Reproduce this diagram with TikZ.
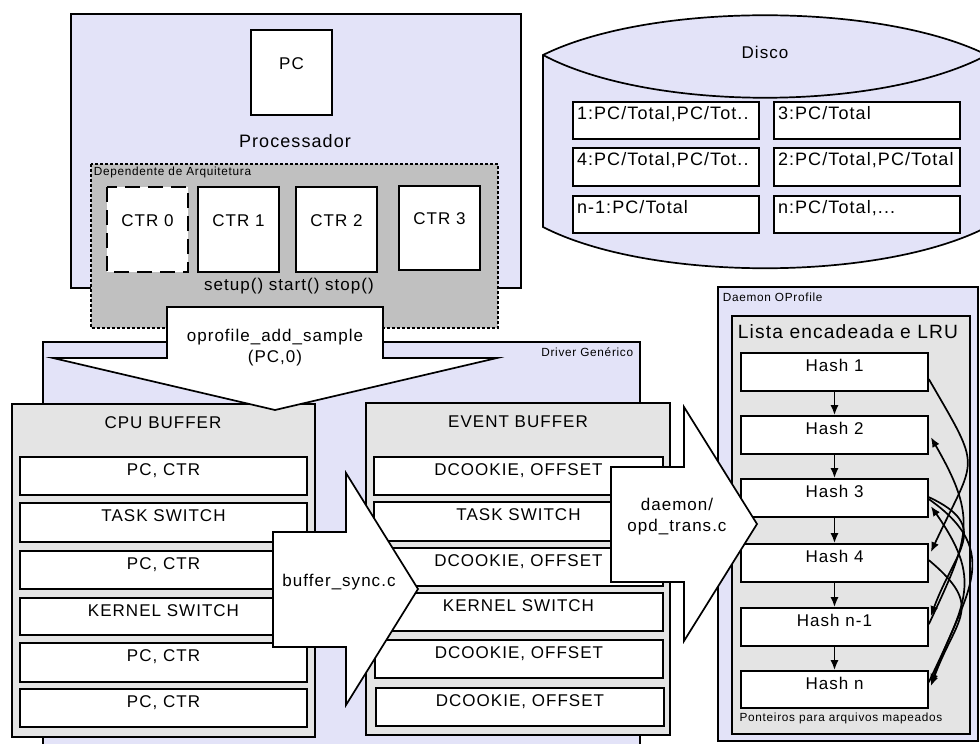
\documentclass[tikz,border=0pt]{standalone}
\usepackage{fontspec}
\setmainfont[LetterSpace=6]{Liberation Sans}
\usetikzlibrary{calc,fit,arrows.meta}

\definecolor{lavanda}{RGB}{227,227,248}
\definecolor{cinza}{RGB}{192,192,192}
\definecolor{cinzaclaro}{RGB}{228,228,228}

\tikzset{
  caixa/.style={draw, fill=white, inner sep=0pt},
  seta/.style={draw, fill=white, line join=miter},
  rotulo/.style={font=\fontsize{5.9}{7}\selectfont, inner sep=1pt},
  ponteiro/.style={-{Latex[length=5pt,width=4pt]}},
}

% celula com texto no alto
\newcommand\celula[6]{%
  \node[caixa, fit={(#2,#3) (#4,#5)}] (#1) {};
  \node[anchor=north] (#1t) at (#1.north) {#6};}
% registro do disco, texto a esquerda
\newcommand\registro[6]{%
  \node[caixa, fit={(#2,#3) (#4,#5)}] (#1) {};
  \node[anchor=north west, inner sep=2pt, font=\fontsize{9}{11}\selectfont] (#1t) at (#1.north west) {#6};}

\begin{document}
\begin{tikzpicture}[x=0.5pt, y=-0.5pt, line width=0.85pt,
    font=\fontsize{8.5}{10.5}\selectfont]
    \clip (0,0) rectangle (980,744);
    %%%%% PROCESSADOR %%%%%
    \draw[fill=lavanda] (71,14) rectangle (521,288);
    \node[caixa, fit={(251,30) (332,115)}] (pc) {};
    \node (pct) at (291.5,64) {PC};
    \node[font=\fontsize{9}{11}\selectfont] (proc) at (295,141) {Processador};

    %%%%% DISCO %%%%%
    \draw[fill=lavanda] (543,55) .. controls (650,2) and (880,2) .. (987,55)
        -- (987,227) .. controls (880,282) and (650,282) .. (543,227) -- cycle;
    \draw (543,55) .. controls (650,112) and (880,112) .. (987,55);
    \node (disco) at (765,52) {Disco};
    \registro{d1}{573}{102}{759}{139}{1:PC/Total,PC/Tot..}
    \registro{d2}{774}{102}{960}{139}{3:PC/Total}
    \registro{d3}{573}{148}{759}{186}{4:PC/Total,PC/Tot..}
    \registro{d4}{774}{148}{960}{186}{2:PC/Total,PC/Total}
    \registro{d5}{573}{196}{759}{233}{n-1:PC/Total}
    \registro{d6}{774}{196}{960}{233}{n:PC/Total,...}

    %%%%% DRIVER GENERICO %%%%%
    \draw[fill=lavanda] (43,342) rectangle (640,760);
    \node[rotulo, anchor=north east] (drv) at (636,345) {Driver Genérico};

    %%%%% DEPENDENTE DE ARQUITETURA %%%%%
    \draw[fill=cinza, dash pattern=on 1.5pt off 1pt] (91,164) rectangle (498,328);
    \node[rotulo, anchor=north west] (arq) at (91,164) {Dependente de Arquitetura};
    \draw[fill=white, line width=1.1pt, dash pattern=on 7.5pt off 4pt] (107,187) rectangle (188,272);
    \node[inner sep=0pt, fit={(107,187) (188,272)}] (ctr0) {};
    \node[caixa, fit={(198,187) (279,272)}] (ctr1) {};
    \node[caixa, fit={(296,187) (377,272)}] (ctr2) {};
    \node[caixa, fit={(399,186) (480,270)}] (ctr3) {};
    \node (ctr0t) at (147.5,221) {CTR 0};
    \node (ctr1t) at (238.5,221) {CTR 1};
    \node (ctr2t) at (336.5,221) {CTR 2};
    \node (ctr3t) at (439.5,219) {CTR 3};
    \node (metodos) at (289,286) {setup() start() stop()};

    %%%%% CPU BUFFER %%%%%
    \draw[fill=cinzaclaro] (12,404) rectangle (315,737);
    \node (cpub) at (163,423) {CPU BUFFER};
    \celula{cpu1}{20}{457}{307}{495}{PC, CTR}
    \celula{cpu2}{20}{503}{307}{542}{TASK SWITCH}
    \celula{cpu3}{20}{551}{307}{589}{PC, CTR}
    \celula{cpu4}{20}{598}{307}{635}{KERNEL SWITCH}
    \celula{cpu5}{20}{643}{307}{682}{PC, CTR}
    \celula{cpu6}{20}{689}{307}{727}{PC, CTR}

    %%%%% EVENT BUFFER %%%%%
    \draw[fill=cinzaclaro] (366,403) rectangle (670,735);
    \node (evb) at (518,422) {EVENT BUFFER};
    \celula{ev1}{374}{457}{663}{495}{DCOOKIE, OFFSET}
    \celula{ev2}{374}{502}{663}{541}{TASK SWITCH}
    \celula{ev3}{374}{548}{663}{586}{DCOOKIE, OFFSET}
    \celula{ev4}{374}{593}{663}{631}{KERNEL SWITCH}
    \celula{ev5}{375}{640}{663}{678}{DCOOKIE, OFFSET}
    \celula{ev6}{376}{688}{664}{726}{DCOOKIE, OFFSET}

    %%%%% DAEMON OPROFILE %%%%%
    \draw[fill=lavanda] (718,287) rectangle (978,741);
    \node[rotulo, anchor=north west] (daemon) at (720,290) {Daemon OProfile};
    \draw[fill=cinzaclaro] (732,316) rectangle (970,734);
    \node[font=\fontsize{9.6}{12}\selectfont] (lista) at (848,332) {Lista encadeada e LRU};
    \celula{h1}{741}{353}{928}{391}{Hash 1}
    \celula{h2}{741}{416}{928}{454}{Hash 2}
    \celula{h3}{741}{479}{928}{517}{Hash 3}
    \celula{h4}{741}{544}{928}{582}{Hash 4}
    \celula{h5}{741}{608}{928}{646}{Hash n-1}
    \celula{h6}{741}{671}{928}{708}{Hash n}
    \node[rotulo] (pont) at (841,718) {Ponteiros para arquivos mapeados};

    \draw[ponteiro] (h1) -- (h2);
    \draw[ponteiro] (h2) -- (h3);
    \draw[ponteiro] (h3) -- (h4);
    \draw[ponteiro] (h4) -- (h5);
    \draw[ponteiro] (h5) -- (h6);

    \draw[ponteiro] ($(h1.north east)+(0,27)$) to[out=-60, in=65, looseness=1.6] ($(h4.north east)+(2,9)$);
    \draw[ponteiro] ($(h5.north east)+(0,17)$) to[out=65, in=-60, looseness=1.3] ($(h2.north east)+(2,22)$);
    \draw[ponteiro] ($(h3.north east)+(0,19)$) to[out=-25, in=70, looseness=1.5] ($(h5.north east)+(2,9)$);
    \draw[ponteiro] ($(h3.north east)+(0,21)$) to[out=-35, in=70, looseness=1.3] ($(h6.north east)+(2,14)$);
    \draw[ponteiro] ($(h6.north east)+(0,12)$) to[out=65, in=-55, looseness=1.3] ($(h3.north east)+(2,28)$);
    \draw[ponteiro] ($(h4.north east)+(0,17)$) to[out=-40, in=70, looseness=1.5] ($(h6.north east)+(2,16)$);

    %%%%% SETAS GRANDES %%%%%
    \draw[seta] (273,532) -- (346,532) -- (346,473) -- (418,589) -- (346,705)
        -- (346,647) -- (273,647) -- cycle;
    \node (sync) at (339,582) {buffer\_sync.c};

    \draw[seta] (611,467) -- (684,467) -- (684,407) -- (757,524) -- (684,641)
        -- (684,582) -- (611,582) -- cycle;
    \node[align=center] (trans) at (677,517) {daemon/\\opd\_trans.c};

    \draw[seta] (167,307) -- (383,307) -- (383,358) -- (497,358) -- (275,410)
        -- (53,358) -- (167,358) -- cycle;
    \node[align=center] (add) at (275,348) {oprofile\_add\_sample\\(PC,0)};
\end{tikzpicture}
\end{document}
